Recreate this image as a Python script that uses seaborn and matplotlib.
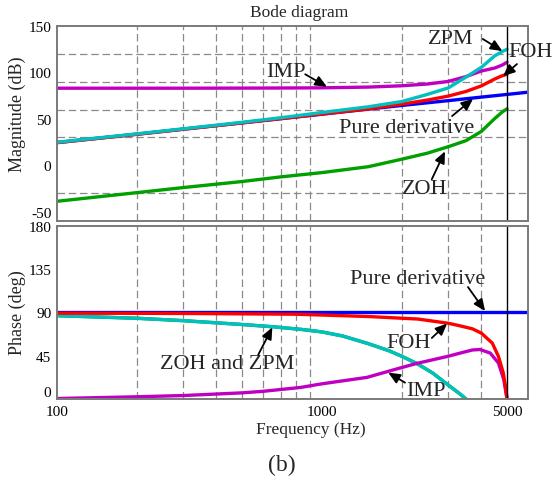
import matplotlib
matplotlib.use("Agg")
import matplotlib.pyplot as plt
from matplotlib.ticker import FixedLocator, NullFormatter
import pandas as pd
import seaborn as sns

# ---- magnitude responses (dB) ----
mag_freq = [100, 200, 300, 500, 700, 1000, 1500, 2000, 2500, 3000, 3500, 4000, 4500, 4800, 5000]
mag_foh = [24.3, 33.3, 38.8, 45.6, 50.2, 55.2, 60.7, 65.8, 70.2, 74.5, 79.5, 85.5, 93.0, 96.5, 98.0]
mag_zpm = [24.8, 33.8, 39.3, 46.3, 51.2, 56.8, 63.0, 68.6, 76.3, 83.3, 95.0, 105.5, 118.0, 122.5, 125.0]
mag_imp = [83.0, 83.0, 83.0, 83.1, 83.2, 83.4, 84.2, 85.6, 87.5, 90.3, 95.5, 101.5, 104.8, 108.0, 111.0]
mag_zoh = [-38.8, -29.5, -24.0, -17.5, -12.5, -7.9, -1.5, 6.5, 13.0, 20.0, 26.5, 36.5, 50.5, 57.5, 60.8]
deriv_freq = [100, 200, 500, 1000, 2000, 3000, 4000, 5000, 6000]
mag_deriv = [24.5, 33.5, 45.7, 55.0, 64.4, 69.6, 73.4, 76.3, 78.7]

# ---- phase responses (deg) ----
ph_deriv_freq = [100, 6000]
ph_deriv = [90, 90]
ph_foh_freq = [100, 300, 800, 1500, 2300, 3000, 3300, 3700, 4000, 4400, 4640, 4840, 4950, 5000]
ph_foh = [89.3, 89.0, 88.2, 85.8, 83.2, 78.8, 76.3, 73.0, 68.5, 58.1, 44.3, 27.0, 10.0, 0.0]
ph_zpm_freq = [100, 200, 300, 500, 650, 830, 1000, 1200, 1500, 1800, 2000, 2280, 2620, 3050, 3330, 3500]
ph_zpm = [86.7, 84.0, 81.5, 77.5, 75.2, 72.5, 69.8, 65.5, 57.5, 50.0, 44.5, 37.0, 27.0, 13.0, 5.0, 0.0]
ph_imp_freq = [100, 200, 300, 500, 600, 830, 1000, 1480, 1970, 2280, 2620, 3000, 3330, 3700, 3950,
               4320, 4640, 4860, 4985, 5000]
ph_imp = [0.5, 2.3, 3.6, 6.4, 8.0, 12.0, 15.8, 22.5, 32.2, 37.0, 40.8, 44.5, 47.8, 51.0, 51.5,
          47.8, 37.4, 20.2, 2.0, 0.0]

mag_ticks = [-50, 0, 50, 100, 150]
mag_grid = [-30, 0, 30, 60, 90, 120]
ph_ticks = [0, 45, 90, 135, 180]
ph_grid = [45, 90, 135]
freq_ticks = [100, 1000, 5000]
freq_grid = [200, 300, 400, 500, 600, 700, 800, 900, 1000, 2000, 3000, 4000, 6000]

colors = {"Pure derivative": "#0000ff", "FOH": "#ff0000", "ZOH": "#00a000",
          "IMP": "#c000c0", "ZPM": "#00c0c0"}

def long_frame(parts):
    rows = []
    for name, fx, vals in parts:
        for f, v in zip(fx, vals):
            rows.append({"freq": f, "value": v, "series": name})
    return pd.DataFrame(rows)

mag_df = long_frame([
    ("Pure derivative", deriv_freq, mag_deriv),
    ("FOH", mag_freq, mag_foh),
    ("ZOH", mag_freq, mag_zoh),
    ("IMP", mag_freq, mag_imp),
    ("ZPM", mag_freq, mag_zpm),
])
ph_df = long_frame([
    ("Pure derivative", ph_deriv_freq, ph_deriv),
    ("ZOH", ph_zpm_freq, ph_zpm),
    ("ZPM", ph_zpm_freq, ph_zpm),
    ("IMP", ph_imp_freq, ph_imp),
    ("FOH", ph_foh_freq, ph_foh),
])

sns.set_theme(style="white")
plt.rcParams["font.family"] = ["Liberation Serif", "DejaVu Serif"]

fig = plt.figure(figsize=(5.54, 4.81), dpi=100)
ax1 = fig.add_axes([0.1029, 0.5385, 0.8502, 0.4054])
ax2 = fig.add_axes([0.1029, 0.1684, 0.8502, 0.3597])

grid_kw = dict(color="#8a8a8a", linestyle=(0, (6, 3)), linewidth=0.9)

for ax in (ax1, ax2):
    ax.set_xscale("log")
    ax.set_xlim(100, 6000)
    ax.xaxis.set_major_locator(FixedLocator(freq_ticks))
    ax.xaxis.set_minor_locator(FixedLocator(freq_grid))
    ax.xaxis.set_minor_formatter(NullFormatter())
    ax.grid(False)
    ax.grid(True, which="minor", **grid_kw)
    for sp in ax.spines.values():
        sp.set_color("#7a7a7a")
        sp.set_linewidth(1.4)
    ax.tick_params(which="both", length=0, labelsize=11, pad=4, colors="black")
    ax.set_axisbelow(True)

# magnitude panel
sns.lineplot(data=mag_df, x="freq", y="value", hue="series",
             hue_order=["Pure derivative", "FOH", "ZOH", "IMP", "ZPM"],
             palette=colors, linewidth=2.4, errorbar=None, legend=False, ax=ax1)
ax1.set_ylim(-60, 150)
ax1.yaxis.set_major_locator(FixedLocator(mag_ticks))
ax1.yaxis.set_minor_locator(FixedLocator(mag_grid))
ax1.set_yticklabels([str(t) for t in mag_ticks])
ax1.set_xticklabels([])
ax1.set_xlabel("")
ax1.set_ylabel("Magnitude (dB)", fontsize=13)
ax1.yaxis.set_label_coords(-0.066, 0.55)
ax1.axvline(5000, color="black", linewidth=1.0)

# phase panel
sns.lineplot(data=ph_df, x="freq", y="value", hue="series",
             hue_order=["Pure derivative", "ZOH", "ZPM", "IMP", "FOH"],
             palette=colors, linewidth=2.4, errorbar=None, legend=False, ax=ax2)
ax2.set_ylim(0, 180)
ax2.yaxis.set_major_locator(FixedLocator(ph_ticks))
ax2.yaxis.set_minor_locator(FixedLocator(ph_grid))
ax2.set_yticklabels([str(t) for t in ph_ticks])
ax2.get_yticklabels()[0].set_verticalalignment("bottom")
ax2.set_xticklabels([str(t) for t in freq_ticks])
ax2.set_ylabel("Phase (deg)", fontsize=13)
ax2.yaxis.set_label_coords(-0.066, 0.506)
ax2.set_xlabel("Frequency (Hz)", fontsize=12.5)
ax2.xaxis.set_label_coords(0.539, -0.125)
ax2.axvline(5000, color="black", linewidth=1.0)

arrow = dict(arrowstyle="-|>,head_length=0.5,head_width=0.22", color="black",
             lw=1.3, mutation_scale=14, shrinkA=0, shrinkB=0)
txt = dict(fontsize=16, ha="center", va="center")

def callout(ax, label, text_xy, tail, tip):
    ax.text(*text_xy, label, **txt)
    ax.annotate("", xy=tip, xytext=tail, arrowprops=arrow, annotation_clip=False)

callout(ax1, "ZPM", (3070, 136), (4050, 136), (4800, 123))
callout(ax1, "FOH", (6150, 123), (5450, 109), (4830, 96))
callout(ax1, "IMP", (730, 101.5), (865, 98), (1045, 84.5))
callout(ax1, "Pure derivative", (2080, 41), (3100, 53), (3720, 71.5))
callout(ax1, "ZOH", (2450, -25), (2600, -15), (2915, 15))

callout(ax2, "Pure derivative", (2290, 125.5), (3560, 116.5), (4130, 91.5))
callout(ax2, "FOH", (2130, 58.5), (2600, 63.5), (2970, 78.5))
callout(ax2, "ZOH and ZPM", (440, 36.7), (575, 46), (650, 74.5))
callout(ax2, "IMP", (2470, 8.8), (2060, 17), (1780, 27.5))

fig.text(299 / 554, 1 - 13 / 481, "Bode diagram", fontsize=12.5, ha="center", va="center")
fig.text(282 / 554, 1 - 465 / 481, "(b)", fontsize=17, ha="center", va="center")

fig.savefig("out.png", dpi=100, facecolor="white")
